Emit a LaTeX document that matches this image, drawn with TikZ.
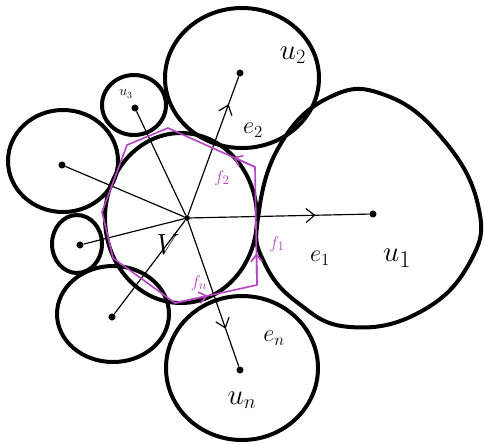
\documentclass[tikz,border=0pt]{standalone}
\usepackage{amsmath}
\usetikzlibrary{arrows.meta,decorations.markings,calc}
\definecolor{mg}{RGB}{185,70,195}
\tikzset{disk/.style={line width=3.4pt},
 edge/.style={line width=1pt},
 dot/.style={circle,fill,inner sep=0pt,minimum size=6pt},
 hub/.style={dot,minimum size=5pt},
 face/.style={draw=mg,line width=1.4pt,line join=round},
 farr/.style={face,-{Straight Barb[length=2.2mm,width=3.4mm]}},
 mid/.style={postaction={decorate},decoration={markings,
  mark=at position #1 with {\arrow{Straight Barb[length=2.6mm,width=4.2mm,line width=1pt]}}}},
 lab/.style={font=\fontsize{26}{26}\selectfont},
 elab/.style={font=\fontsize{20}{20}\selectfont},
 flab/.style={text=mg,font=\fontsize{15}{15}\selectfont}}
\begin{document}
\begin{tikzpicture}[x=0.03cm,y=-0.03cm]
\useasboundingbox (0,0) rectangle (485,443);
% disks
\draw[disk] (181,218) ellipse[x radius=2.28cm,y radius=2.55cm];
\draw[disk] (242,78) ellipse[x radius=2.31cm,y radius=2.1cm];
\draw[disk] (242,368) ellipse[x radius=2.28cm,y radius=2.16cm];
\draw[disk] (63,161) ellipse[x radius=1.65cm,y radius=1.53cm];
\draw[disk] (77,244) ellipse[x radius=0.75cm,y radius=0.87cm];
\draw[disk] (113,314) ellipse[x radius=1.68cm,y radius=1.44cm];
\draw[disk] (134,105) ellipse[x radius=0.96cm,y radius=0.9cm];
\draw[disk] plot[smooth cycle,tension=0.75] coordinates {(258,218) (280,145) (330,97) (385,95)
 (442,138) (478,205) (470,262) (420,312) (350,327) (298,303) (264,262)};
% centres
\node[hub] (v) at (187,218) {};
\node[dot] (u1) at (373,214) {};
\node[dot] (u2) at (240,73) {};
\node[dot] (un) at (240,370) {};
\node[dot] (u3) at (135,108) {};
\node[dot] (w1) at (62,165) {};
\node[dot] (w2) at (80,245) {};
\node[dot] (w3) at (112,317) {};
% edges
\draw[edge,mid=0.7] (v) -- (u1);
\draw[edge,mid=0.8] (v) -- (u2);
\draw[edge,mid=0.74] (v) -- (un);
\draw[edge] (v) -- (u3);
\draw[edge] (v) -- (w1);
\draw[edge] (v) -- (w2);
\draw[edge] (v) -- (w3);
% face around v
\coordinate (p1) at (168,128);
\coordinate (p2) at (255,167);
\coordinate (p3) at (257,285);
\coordinate (p4) at (175,303);
\coordinate (p5) at (113,258);
\coordinate (p6) at (102,212);
\coordinate (p7) at (127,145);
\draw[face] (p1) -- (p2) -- (p3) -- (p4) -- (p5) -- (p6) -- (p7) -- cycle;
\draw[farr] (p2) -- ($(p2)!0.25!(p1)$);
\draw[farr] (p3) -- ($(p3)!0.27!(p2)$);
\draw[farr] (p4) -- ($(p4)!0.4!(p3)$);
% labels
\node[lab,font=\fontsize{32}{32}\selectfont] (lv) at (168,245) {$V$};
\node[lab,font=\fontsize{30}{30}\selectfont] (l1) at (397,258) {$u_1$};
\node[lab] (l2) at (293,55) {$u_2$};
\node[lab] (ln) at (242,400) {$u_n$};
\node[font=\fontsize{12}{12}\selectfont] (l3) at (126,94) {$u_3$};
\node[elab] (le1) at (320,258) {$e_1$};
\node[elab] (le2) at (253,130) {$e_2$};
\node[elab] (len) at (274,338) {$e_n$};
\node[flab] (lf1) at (277,244) {$f_1$};
\node[flab] (lf2) at (222,178) {$f_2$};
\node[flab] (lfn) at (199,283) {$f_n$};
\end{tikzpicture}
\end{document}
